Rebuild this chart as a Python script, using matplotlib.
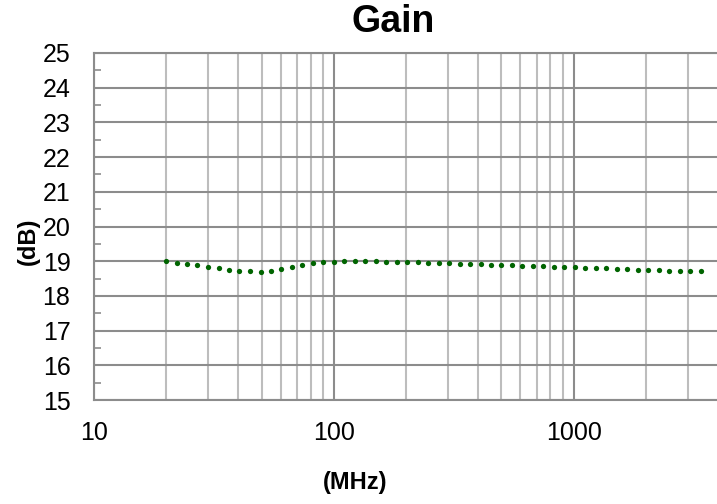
import numpy as np
import matplotlib.pyplot as plt
from matplotlib.ticker import FixedLocator, NullFormatter

plt.rcParams['font.family'] = ['Liberation Sans', 'DejaVu Sans']

# ------------------------------------------
# Data
# ------------------------------------------
freq_mhz = [20.0, 22.1, 24.5, 27.0, 29.9, 33.1, 36.6, 40.4, 44.7, 49.5,
            54.7, 60.5, 66.9, 74.0, 81.8, 90.5, 100.0, 110.6, 122.3, 135.2,
            149.5, 165.4, 182.9, 202.2, 223.6, 247.3, 273.5, 302.4, 334.4, 369.8,
            409.0, 452.3, 500.0, 552.9, 611.5, 676.2, 747.8, 826.9, 914.5, 1011.3,
            1118.3, 1236.7, 1367.6, 1512.4, 1672.5, 1849.5, 2045.3, 2261.8, 2500.0, 2764.6,
            3057.2, 3380.9]
gain_db = [19.00, 18.96, 18.92, 18.88, 18.84, 18.80, 18.76, 18.73, 18.71, 18.70,
           18.73, 18.78, 18.84, 18.90, 18.95, 18.98, 18.99, 19.00, 19.00, 19.00,
           19.00, 18.99, 18.99, 18.98, 18.97, 18.96, 18.95, 18.94, 18.93, 18.92,
           18.91, 18.90, 18.89, 18.88, 18.87, 18.86, 18.85, 18.84, 18.83, 18.82,
           18.81, 18.80, 18.79, 18.78, 18.77, 18.76, 18.75, 18.74, 18.73, 18.72,
           18.72, 18.71]

x_ticks = [10, 100, 1000]
x_tick_labels = ['10', '100', '1000']
y_ticks = list(range(15, 26))

# ------------------------------------------
# Plot
# ------------------------------------------
fig = plt.figure(figsize=(7.17, 5.04), dpi=100)
ax = fig.add_axes([94 / 717, 1 - 400 / 504, 1 - 94 / 717, (400 - 53) / 504])

ax.set_xscale('log')
ax.set_xlim(10, 3960)
ax.set_ylim(15, 25)

minor_x = [m * d for d in (10, 100, 1000) for m in range(2, 10) if m * d < 3960]
ax.xaxis.set_major_locator(FixedLocator(x_ticks))
ax.xaxis.set_minor_locator(FixedLocator(minor_x))
ax.xaxis.set_minor_formatter(NullFormatter())
ax.set_xticklabels(x_tick_labels)
ax.set_yticks(y_ticks)
ax.yaxis.set_minor_locator(FixedLocator([v + 0.5 for v in y_ticks[:-1]]))

ax.grid(True, which='major', axis='both', color='#8c8c8c', lw=1.5)
ax.grid(True, which='minor', axis='x', color='#bdbdbd', lw=1.5)
ax.set_axisbelow(True)

ax.tick_params(axis='x', which='both', length=0, pad=15, labelsize=18)
ax.tick_params(axis='y', which='major', length=0, pad=17, labelsize=18)
ax.tick_params(axis='y', which='minor', direction='in', length=5, width=1.2, color='#8c8c8c')

for side in ('left', 'bottom', 'top'):
    ax.spines[side].set_color('#8c8c8c')
    ax.spines[side].set_linewidth(1.5)
ax.spines['right'].set_visible(False)

ax.plot(freq_mhz, gain_db, 'o', ms=3.8, color='#006400', mec='none', clip_on=False)

fig.text(393 / 717, 1 - 22 / 504, 'Gain', ha='center', va='center',
         fontsize=27, fontweight='bold')
fig.text(28 / 717, 1 - 241 / 504, '(dB)', ha='center', va='center',
         rotation=90, fontsize=17, fontweight='bold')
fig.text(355 / 717, 1 - 483 / 504, '(MHz)', ha='center', va='center',
         fontsize=17, fontweight='bold')

fig.savefig('out.png', dpi=100)
